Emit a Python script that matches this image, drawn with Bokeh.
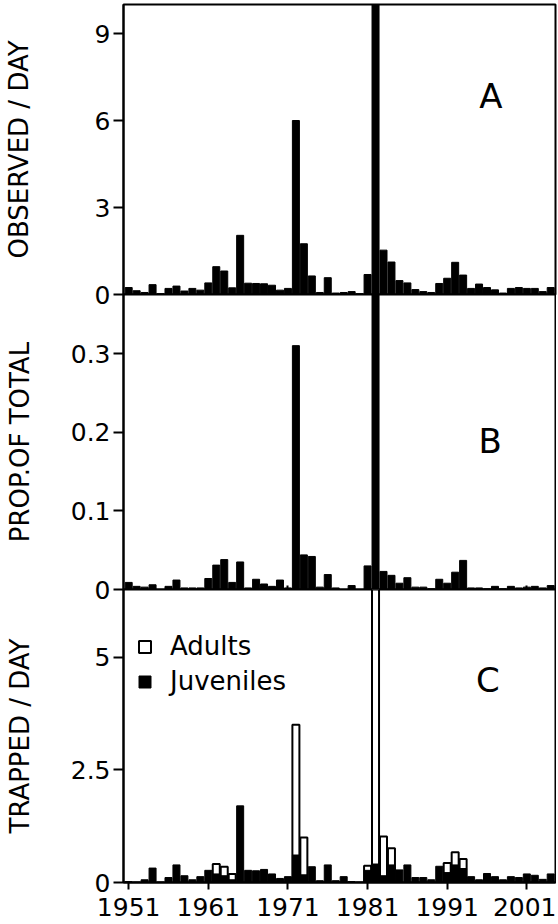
from bokeh.plotting import figure
from bokeh.layouts import column
from bokeh.models import Range1d, FixedTicker, Legend, LegendItem, ColumnDataSource
from bokeh.core.properties import value
from bokeh.embed import file_html
from bokeh.resources import INLINE

years = list(range(1951, 2005))
observed_per_day = [0.24, 0.13, 0.07, 0.34, 0.03, 0.21, 0.29, 0.12, 0.21, 0.15,
                    0.40, 0.96, 0.81, 0.23, 2.04, 0.39, 0.38, 0.37, 0.32, 0.15,
                    0.21, 6.00, 1.75, 0.64, 0.07, 0.58, 0.05, 0.07, 0.10, 0.03,
                    0.69, 10.5, 1.53, 1.12, 0.48, 0.40, 0.17, 0.10, 0.07, 0.38,
                    0.56, 1.11, 0.67, 0.21, 0.36, 0.24, 0.16, 0.05, 0.21, 0.24,
                    0.21, 0.21, 0.10, 0.24]
prop_of_total = [0.009, 0.004, 0.003, 0.006, 0.000, 0.004, 0.012, 0.002, 0.002, 0.002,
                 0.014, 0.031, 0.038, 0.009, 0.035, 0.002, 0.013, 0.007, 0.004, 0.012,
                 0.002, 0.310, 0.044, 0.042, 0.003, 0.019, 0.002, 0.000, 0.005, 0.000,
                 0.030, 0.400, 0.023, 0.018, 0.008, 0.015, 0.003, 0.003, 0.001, 0.013,
                 0.008, 0.022, 0.037, 0.002, 0.002, 0.001, 0.004, 0.001, 0.004, 0.002,
                 0.003, 0.004, 0.002, 0.005]
trapped_adults = [0, 0, 0, 0, 0, 0, 0, 0, 0, 0,
                  0, 0.41, 0.35, 0.19, 0, 0, 0, 0, 0, 0,
                  0, 3.50, 1.00, 0, 0, 0, 0, 0, 0, 0,
                  0.37, 7.0, 1.02, 0.76, 0, 0, 0, 0, 0, 0,
                  0.43, 0.67, 0.52, 0, 0, 0, 0, 0, 0, 0,
                  0, 0, 0, 0]
trapped_juveniles = [0.02, 0.00, 0.06, 0.32, 0.00, 0.11, 0.39, 0.15, 0.06, 0.13,
                     0.27, 0.19, 0.15, 0.06, 1.70, 0.27, 0.26, 0.29, 0.19, 0.09,
                     0.13, 0.61, 0.17, 0.35, 0.04, 0.39, 0.04, 0.13, 0.02, 0.00,
                     0.27, 0.41, 0.15, 0.39, 0.28, 0.39, 0.11, 0.11, 0.06, 0.36,
                     0.22, 0.39, 0.31, 0.13, 0.06, 0.20, 0.13, 0.06, 0.13, 0.11,
                     0.19, 0.16, 0.07, 0.19]
year_ticks = [1951, 1961, 1971, 1981, 1991, 2001]
ticks_a = [0, 3, 6, 9]
ticks_b = [0, 0.1, 0.2, 0.3]
ticks_c = [0, 2.5, 5]
panel_letters = ["A", "B", "C"]
letter_x = [1996.5, 1996.4, 1996.1]
letter_y = [6.83, 0.189, 4.49]

FONT = "DejaVu Sans"
BAR_W = 0.88
OVERLAP = 18

src = ColumnDataSource(dict(year=years, obs=observed_per_day, prop=prop_of_total,
                            adults=trapped_adults, juv=trapped_juveniles))


def make_panel(y_end, frame_h, ticks, ylabel, label_standoff, top_border, bottom_border, overrides):
    p = figure(frame_width=432, frame_height=frame_h,
               x_range=Range1d(1950.35, 2004.6), y_range=Range1d(0, y_end),
               output_backend="svg", toolbar_location=None,
               min_border_left=116, min_border_right=2,
               min_border_top=top_border, min_border_bottom=bottom_border)
    p.grid.visible = False
    p.outline_line_color = "black"
    p.outline_line_width = 2
    p.outline_line_alpha = 1
    p.border_fill_alpha = 0
    p.background_fill_color = "white"
    ya = p.yaxis[0]
    ya.ticker = FixedTicker(ticks=ticks)
    ya.major_label_overrides = overrides
    ya.minor_tick_line_color = None
    ya.major_tick_out = 10
    ya.major_tick_in = 0
    ya.major_tick_line_width = 2
    ya.axis_line_width = 2
    ya.major_label_standoff = 3
    ya.major_label_text_font = FONT
    ya.major_label_text_font_size = "25px"
    ya.major_label_text_color = "black"
    ya.axis_label = ylabel
    ya.axis_label_text_font = FONT
    ya.axis_label_text_font_size = "26px"
    ya.axis_label_text_font_style = "normal"
    ya.axis_label_text_color = "black"
    ya.axis_label_standoff = label_standoff
    xa = p.xaxis[0]
    xa.ticker = FixedTicker(ticks=year_ticks)
    xa.minor_tick_line_color = None
    xa.axis_line_width = 2
    xa.major_tick_line_width = 2
    return p


def hide_x_labels(p):
    xa = p.xaxis[0]
    xa.major_label_text_font_size = "1px"
    xa.major_label_text_color = None
    xa.major_label_standoff = 0
    xa.major_tick_out = 0
    xa.major_tick_in = 4


pA = make_panel(10.0, 290, ticks_a, "OBSERVED / DAY", 58, 4, OVERLAP, {})
pA.vbar(x="year", top="obs", width=BAR_W, source=src, fill_color="black", line_color="black")
hide_x_labels(pA)
pA.border_fill_alpha = 1
pA.border_fill_color = "white"

pB = make_panel(0.375, 295, ticks_b, "PROP.OF TOTAL", 33, 0, OVERLAP, {0: "0"})
pB.vbar(x="year", top="prop", width=BAR_W, source=src, fill_color="black", line_color="black")
hide_x_labels(pB)
pB.styles = {"margin-top": "-%dpx" % OVERLAP}

pC = make_panel(6.5, 293, ticks_c, "TRAPPED / DAY", 33, 0, 42, {0: "0", 5: "5"})
r_ad = pC.vbar(x="year", top="adults", width=BAR_W, source=src, fill_color="white",
               line_color="black", line_width=2)
r_jv = pC.vbar(x="year", top="juv", width=BAR_W, source=src, fill_color="black", line_color="black")
pC.xaxis[0].major_tick_out = 7
pC.xaxis[0].major_tick_in = 0
pC.xaxis[0].major_label_standoff = 8
pC.xaxis[0].major_label_text_font = FONT
pC.xaxis[0].major_label_text_font_size = "25px"
pC.xaxis[0].major_label_text_color = "black"
pC.styles = {"margin-top": "-%dpx" % OVERLAP}

legend = Legend(items=[LegendItem(label="Adults", renderers=[r_ad]),
                       LegendItem(label="Juveniles", renderers=[r_jv])],
                location=(14, 186), border_line_alpha=0, background_fill_alpha=0,
                label_text_font=FONT, label_text_font_size="26px",
                label_text_color="black",
                glyph_width=15, glyph_height=15, label_standoff=18,
                spacing=5, label_height=30, padding=0, margin=0)
pC.add_layout(legend)

for p, letter, lx, ly in zip([pA, pB, pC], panel_letters, letter_x, letter_y):
    p.text(x=[lx], y=[ly], text=[letter], text_align="center", text_baseline="middle",
           text_font=value(FONT), text_font_size="34px", text_color="black")

layout = column(pA, pB, pC, spacing=0)

open("out.html", "w").write(file_html(layout, INLINE))
